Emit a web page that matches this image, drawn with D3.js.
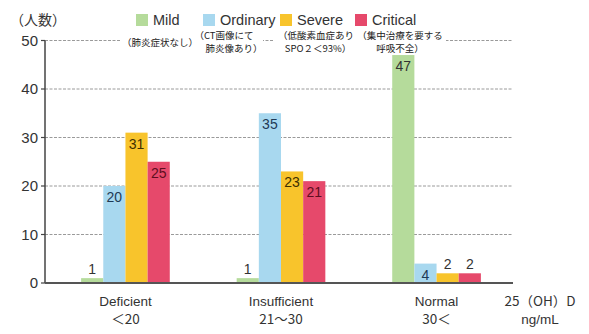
<!DOCTYPE html>
<html><head><meta charset="utf-8">
<script src="https://cdn.jsdelivr.net/npm/d3@7"></script>
<style>
body{margin:0;background:#fff;}
text{font-family:"Liberation Sans",Arial,sans-serif;}
.jp{font-family:"Noto Sans CJK JP","Liberation Sans",sans-serif;}
</style></head>
<body><svg id="c" width="589" height="334"></svg>
<script>
const categories = ["Deficient", "Insufficient", "Normal"];
const categorySub = ["＜20", "21～30", "30＜"];
const seriesNames = ["Mild", "Ordinary", "Severe", "Critical"];
const seriesNotes = [["（肺炎症状なし）"], ["（CT画像にて", "肺炎像あり）"], ["（低酸素血症あり", "SPO２＜93%）"], ["（集中治療を要する", "呼吸不全）"]];
const mild = [1, 1, 47];
const ordinary = [20, 35, 4];
const severe = [31, 23, 2];
const critical = [25, 21, 2];
const yTicks = [0, 10, 20, 30, 40, 50];
const colors = ["#b5db9b", "#a8d8ef", "#f8c42c", "#e6496b"];
const labelColors = ["#333333", "#1f3a55", "#3f3000", "#5e0e20"];

const seriesValues = [mild, ordinary, severe, critical];
const svg = d3.select("#c");
const y = d3.scaleLinear().domain([0, 50]).range([283, 40.5]);
const x0 = d3.scaleBand().domain(categories).range([50, 512]).paddingInner(0.43).paddingOuter(0.2);
const x1 = d3.scaleBand().domain(seriesNames).range([0, x0.bandwidth()]);
const axisX = 45, rightX = 513;

// gridlines
svg.append("g").selectAll("line").data(yTicks.filter(d => d > 0)).join("line")
  .attr("x1", axisX).attr("x2", rightX).attr("y1", d => y(d)).attr("y2", d => y(d))
  .attr("stroke", "#9a9a9a").attr("stroke-width", 1).attr("stroke-dasharray", "3,1.5");

// white areas where the notes interrupt the top gridline
svg.append("rect").attr("x", 120).attr("y", 36).attr("width", 143).attr("height", 9).attr("fill", "#fff");
svg.append("rect").attr("x", 273).attr("y", 36).attr("width", 173).attr("height", 9).attr("fill", "#fff");

// annotation notes (centre x, baseline y)
const notePos = [[[160, 45.5]], [[224, 38.5], [234, 51.5]], [[316, 38.5], [318, 51.5]], [[400, 38.5], [400, 51.5]]];
seriesNotes.forEach((lines, i) => {
  lines.forEach((l, j) => {
    svg.append("text").attr("class", "jp").attr("font-size", 9.5).attr("fill", "#222")
      .attr("text-anchor", "middle")
      .attr("x", notePos[i][j][0]).attr("y", notePos[i][j][1]).text(l);
  });
});

// bars
const groups = svg.append("g").selectAll("g").data(categories).join("g")
  .attr("transform", d => `translate(${x0(d)},0)`);
groups.selectAll("rect").data((c, ci) => seriesNames.map((s, si) => ({s, si, v: seriesValues[si][ci]}))).join("rect")
  .attr("x", d => x1(d.s)).attr("width", x1.bandwidth())
  .attr("y", d => y(d.v)).attr("height", d => y(0) - y(d.v))
  .attr("fill", d => colors[d.si]);
groups.selectAll("text").data((c, ci) => seriesNames.map((s, si) => ({s, si, v: seriesValues[si][ci]}))).join("text")
  .attr("x", d => x1(d.s) + x1.bandwidth() / 2)
  .attr("y", d => d.v >= 3 ? y(d.v) + 16 : y(d.v) - 4)
  .attr("text-anchor", "middle").attr("font-size", 14)
  .attr("fill", d => d.v >= 3 ? labelColors[d.si] : "#333")
  .text(d => d.v);

// y axis
svg.append("line").attr("x1", axisX).attr("x2", axisX).attr("y1", y(50)).attr("y2", y(0))
  .attr("stroke", "#444").attr("stroke-width", 1.5);
svg.append("g").selectAll("line").data(yTicks).join("line")
  .attr("x1", axisX - 4).attr("x2", axisX).attr("y1", d => y(d)).attr("y2", d => y(d))
  .attr("stroke", "#444").attr("stroke-width", 1.2);
svg.append("g").selectAll("text").data(yTicks).join("text")
  .attr("x", axisX - 7).attr("y", d => y(d) + 5).attr("text-anchor", "end")
  .attr("font-size", 15).attr("fill", "#333").text(d => d);
// baseline
svg.append("line").attr("x1", axisX).attr("x2", rightX).attr("y1", y(0)).attr("y2", y(0))
  .attr("stroke", "#555").attr("stroke-width", 2);

// y title
svg.append("text").attr("class", "jp").attr("x", 10).attr("y", 25).attr("font-size", 14).attr("fill", "#333").text("（人数）");

// legend
const legX = [136, 203, 280, 355];
seriesNames.forEach((s, i) => {
  svg.append("rect").attr("x", legX[i]).attr("y", 14).attr("width", 12).attr("height", 12).attr("fill", colors[i]);
  svg.append("text").attr("x", legX[i] + 17).attr("y", 25).attr("font-size", 14.5).attr("fill", "#333").text(s);
});

// x labels
categories.forEach((c, i) => {
  const cx = x0(c) + x0.bandwidth() / 2;
  svg.append("text").attr("x", cx).attr("y", 306).attr("text-anchor", "middle").attr("font-size", 13.5).attr("fill", "#333").text(c);
  svg.append("text").attr("class", "jp").attr("x", cx).attr("y", 324).attr("text-anchor", "middle").attr("font-size", 13.5).attr("fill", "#333").text(categorySub[i]);
});
svg.append("text").attr("class", "jp").attr("x", 540).attr("y", 306).attr("text-anchor", "middle").attr("font-size", 13.5).attr("fill", "#333").text("25（OH）D");
svg.append("text").attr("x", 540).attr("y", 324).attr("text-anchor", "middle").attr("font-size", 13.5).attr("fill", "#333").text("ng/mL");
</script></body></html>
